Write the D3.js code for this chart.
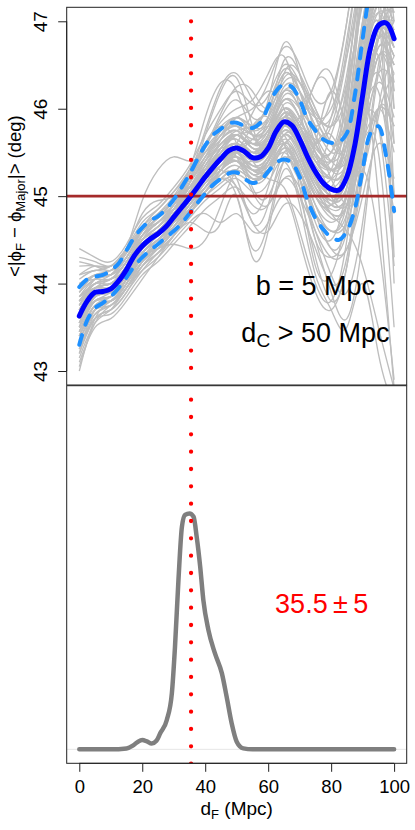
<!DOCTYPE html>
<html>
<head>
<meta charset="utf-8">
<script src="https://cdn.jsdelivr.net/npm/d3@7"></script>
<style>
  body { margin: 0; background: #fff; }
  svg { display: block; font-family: "Liberation Sans", Arial, Helvetica, sans-serif; }
</style>
</head>
<body>
<div id="chart"></div>
<script>
// ---- data ----

// grid for the individual (gray) realisations, d_F in Mpc
const gridX = [0, 5, 10, 15, 20, 25, 30, 35, 40, 45, 50, 55, 60, 65, 70, 75, 80, 85, 90, 95, 100];

// gray realisations, <|phi_F - phi_Major|> in deg at gridX
const grayCurves = [
  [43.70, 43.95, 44.00, 44.20, 44.50, 44.60, 44.80, 45.05, 45.40, 45.70, 45.80, 45.60, 45.70, 46.10, 45.90, 45.50, 45.30, 45.60, 46.60, 47.30, 47.20],
  [43.50, 43.85, 43.90, 44.10, 44.35, 44.50, 44.70, 44.90, 45.10, 45.30, 45.40, 45.30, 45.40, 45.70, 45.50, 45.10, 44.90, 45.00, 45.80, 46.60, 46.40],
  [44.10, 44.15, 44.20, 44.40, 44.65, 44.80, 44.95, 45.20, 45.55, 45.90, 46.10, 45.90, 46.00, 46.40, 46.20, 45.80, 45.60, 45.90, 47.00, 47.60, 47.50],
  [43.20, 43.65, 43.75, 43.95, 44.20, 44.35, 44.55, 44.75, 44.95, 45.10, 45.20, 45.05, 45.15, 45.45, 45.20, 44.80, 44.60, 44.70, 45.40, 46.00, 45.50],
  [43.00, 43.60, 43.80, 44.00, 44.25, 44.45, 44.60, 44.85, 45.05, 45.25, 45.35, 45.20, 45.30, 45.60, 45.40, 45.00, 44.80, 44.90, 45.70, 46.30, 45.90],
  [44.40, 44.30, 44.25, 44.45, 44.75, 44.90, 45.10, 45.35, 45.70, 46.00, 46.20, 46.05, 46.15, 46.50, 46.30, 45.95, 45.80, 46.20, 47.30, 47.80, 47.80],
  [43.80, 44.00, 44.10, 44.40, 44.95, 45.30, 45.45, 45.40, 45.50, 45.70, 45.90, 45.70, 45.60, 45.90, 45.80, 45.40, 45.20, 45.40, 46.40, 47.10, 46.90],
  [43.60, 43.90, 43.95, 44.20, 44.50, 44.65, 44.85, 45.15, 45.70, 46.20, 46.35, 45.80, 45.50, 45.90, 45.80, 45.30, 45.00, 45.30, 46.50, 47.20, 47.00],
  [43.55, 43.85, 43.90, 44.10, 44.40, 44.55, 44.70, 44.90, 45.15, 45.20, 45.00, 44.40, 44.70, 45.40, 45.30, 44.90, 44.70, 45.00, 46.00, 46.80, 46.60],
  [43.65, 43.90, 43.95, 44.15, 44.40, 44.55, 44.75, 45.00, 45.25, 45.50, 45.70, 45.75, 46.10, 46.75, 46.40, 45.70, 45.30, 45.40, 46.30, 47.00, 46.90],
  [43.60, 43.90, 43.95, 44.15, 44.45, 44.60, 44.80, 45.00, 45.25, 45.45, 45.50, 45.30, 45.35, 45.60, 45.80, 46.30, 46.20, 45.60, 45.90, 46.70, 46.50],
  [43.70, 43.95, 44.00, 44.20, 44.45, 44.60, 44.80, 45.00, 45.25, 45.45, 45.55, 45.40, 45.50, 45.80, 45.60, 45.20, 44.90, 45.00, 45.60, 45.50, 43.50],
  [43.50, 43.80, 43.85, 44.05, 44.35, 44.50, 44.70, 44.95, 45.20, 45.40, 45.50, 45.30, 45.30, 45.40, 45.00, 44.30, 43.80, 44.20, 45.50, 46.40, 46.30],
  [43.30, 43.60, 43.65, 43.85, 44.10, 44.25, 44.45, 44.65, 44.85, 45.00, 45.10, 44.90, 44.90, 45.20, 45.00, 44.60, 44.30, 44.40, 45.00, 45.60, 45.20],
  [43.75, 44.00, 44.05, 44.25, 44.50, 44.65, 44.85, 45.10, 45.35, 45.60, 45.70, 45.60, 45.75, 46.10, 45.90, 45.50, 45.40, 45.90, 47.30, 48.00, 48.00],
  [43.90, 44.05, 44.10, 44.30, 44.55, 44.70, 44.90, 45.10, 45.30, 45.50, 45.60, 45.50, 45.65, 45.95, 45.75, 45.40, 45.20, 45.40, 46.50, 47.10, 46.70],
  [43.60, 43.90, 43.95, 44.15, 44.40, 44.55, 44.75, 45.00, 45.20, 45.40, 45.50, 45.50, 45.60, 45.70, 45.10, 44.20, 44.10, 44.80, 46.00, 46.80, 46.60],
  [43.40, 43.75, 43.85, 44.05, 44.35, 44.50, 44.70, 44.90, 45.15, 45.35, 45.45, 45.35, 45.45, 45.75, 45.55, 45.15, 44.95, 45.10, 46.10, 46.90, 46.70],
  [43.80, 44.00, 44.00, 44.20, 44.45, 44.60, 44.80, 45.05, 45.30, 45.55, 45.70, 45.60, 45.70, 46.00, 45.80, 45.60, 45.90, 46.80, 47.80, 48.00, 47.80],
  [43.65, 43.90, 43.95, 44.15, 44.40, 44.55, 44.75, 44.95, 45.15, 45.35, 45.60, 45.95, 46.20, 46.00, 45.50, 45.10, 44.95, 45.20, 46.20, 46.90, 46.80],
  [43.55, 43.85, 43.90, 44.10, 44.40, 44.55, 44.75, 44.95, 45.20, 45.40, 45.50, 45.35, 45.40, 45.70, 45.50, 45.10, 44.80, 44.90, 45.30, 44.50, 42.90],
  [43.10, 43.50, 43.60, 43.80, 44.05, 44.30, 44.55, 44.80, 45.05, 45.30, 45.45, 45.35, 45.45, 45.75, 45.55, 45.15, 44.95, 45.10, 46.00, 46.80, 46.60],
  [44.00, 44.10, 44.15, 44.35, 44.60, 44.75, 44.95, 45.25, 45.75, 46.25, 46.40, 46.10, 46.00, 46.40, 46.20, 45.80, 45.50, 45.80, 46.90, 47.50, 47.40],
  [43.70, 43.95, 44.00, 44.20, 44.45, 44.60, 44.80, 45.05, 45.30, 45.45, 45.45, 45.25, 45.40, 45.80, 45.90, 46.30, 46.40, 45.70, 45.30, 46.00, 45.80],
  [43.85, 44.00, 44.05, 44.25, 44.55, 44.70, 44.90, 45.15, 45.40, 45.60, 45.65, 45.50, 45.60, 45.95, 45.70, 45.30, 45.10, 45.30, 46.40, 47.20, 47.10],
  [43.45, 43.80, 43.85, 44.05, 44.30, 44.45, 44.65, 44.90, 45.10, 45.25, 45.20, 44.70, 44.90, 45.50, 45.20, 44.50, 44.30, 44.60, 45.70, 46.60, 46.50],
  [43.65, 43.90, 43.95, 44.15, 44.45, 44.60, 44.80, 45.00, 45.25, 45.50, 45.60, 45.45, 45.55, 45.90, 45.70, 45.30, 45.00, 45.40, 46.20, 45.00, 42.80],
  [43.75, 43.95, 44.00, 44.20, 44.50, 44.65, 44.85, 45.10, 45.30, 45.50, 45.55, 45.45, 45.55, 45.85, 45.65, 45.35, 45.20, 45.60, 46.70, 47.40, 47.10],
  [43.55, 43.85, 43.90, 44.10, 44.30, 44.40, 44.45, 44.40, 44.50, 44.90, 45.30, 45.40, 45.50, 45.75, 45.55, 45.20, 45.00, 45.20, 46.20, 46.90, 46.80],
  [43.35, 43.70, 43.80, 44.00, 44.25, 44.40, 44.60, 44.85, 45.10, 45.30, 45.40, 45.25, 45.30, 45.60, 45.40, 45.00, 44.75, 44.90, 45.90, 46.80, 46.70],
  [43.60, 43.90, 43.95, 44.15, 44.40, 44.55, 44.75, 45.00, 45.25, 45.45, 45.50, 45.30, 45.40, 45.60, 45.20, 44.50, 43.90, 43.60, 44.50, 46.00, 46.60],
  [44.20, 44.20, 44.20, 44.40, 44.60, 44.75, 44.90, 45.15, 45.45, 45.70, 45.80, 45.70, 45.80, 46.20, 46.00, 45.60, 45.40, 45.70, 46.80, 47.40, 47.30],
  [43.70, 43.95, 44.00, 44.20, 44.45, 44.60, 44.80, 45.05, 45.30, 45.45, 45.55, 45.45, 45.60, 45.90, 45.70, 45.20, 44.80, 44.60, 44.20, 43.50, 42.80],
  [43.25, 43.60, 43.70, 43.90, 44.20, 44.40, 44.60, 44.85, 45.10, 45.30, 45.40, 45.30, 45.40, 45.70, 45.45, 45.05, 44.85, 45.00, 45.90, 46.70, 46.50],
  [44.30, 44.25, 44.20, 44.35, 44.60, 44.70, 44.85, 45.00, 45.30, 45.65, 45.90, 46.00, 46.30, 46.70, 46.50, 46.10, 46.20, 47.00, 48.00, 48.00, 48.00],
  [43.15, 43.55, 43.70, 43.95, 44.15, 44.30, 44.50, 44.70, 44.80, 44.70, 44.80, 44.60, 44.70, 45.00, 44.50, 43.90, 43.70, 44.20, 45.30, 46.00, 45.80],
  [43.90, 44.10, 44.15, 44.40, 44.80, 44.95, 45.00, 45.30, 45.90, 46.30, 46.20, 45.70, 45.70, 46.40, 46.40, 46.00, 45.80, 46.40, 47.50, 48.00, 47.90],
  [43.50, 43.80, 43.80, 44.00, 44.30, 44.40, 44.55, 44.70, 44.60, 44.70, 45.00, 44.30, 44.60, 45.30, 44.90, 44.10, 43.70, 43.50, 44.00, 43.20, 42.60],
  [43.05, 43.55, 43.75, 43.95, 44.25, 44.45, 44.65, 44.90, 45.20, 45.50, 45.70, 45.60, 45.90, 46.55, 46.40, 45.90, 45.60, 45.80, 46.80, 47.60, 47.50],
  [44.00, 44.05, 44.05, 44.20, 44.55, 44.75, 44.95, 45.25, 45.60, 45.85, 46.00, 46.10, 46.40, 46.60, 46.00, 45.40, 45.70, 46.30, 47.20, 47.90, 48.00],
  [43.40, 43.75, 43.80, 43.95, 44.20, 44.35, 44.55, 44.80, 45.05, 45.20, 45.10, 44.80, 45.10, 45.60, 45.30, 44.70, 44.50, 45.10, 46.40, 47.00, 46.00],
  [43.80, 43.95, 43.95, 44.15, 44.50, 44.70, 44.85, 45.05, 45.25, 45.40, 45.50, 45.65, 45.80, 45.60, 45.20, 45.60, 46.20, 45.80, 45.80, 46.60, 46.20],
  [43.60, 43.80, 43.85, 44.05, 44.35, 44.50, 44.65, 44.85, 45.05, 45.30, 45.50, 45.40, 45.20, 45.10, 44.60, 44.00, 43.80, 44.50, 45.80, 46.20, 45.00],
  [44.25, 44.20, 44.15, 44.30, 44.60, 44.80, 45.00, 45.30, 45.60, 45.80, 45.90, 45.80, 45.90, 46.20, 46.10, 45.90, 46.00, 46.60, 47.40, 47.70, 47.60],
  [43.55, 43.80, 43.90, 44.15, 44.45, 44.60, 44.75, 44.95, 45.20, 45.45, 45.60, 45.50, 45.60, 45.90, 45.70, 45.40, 45.30, 45.70, 47.00, 47.80, 47.80],
  [43.25, 43.70, 43.85, 44.05, 44.30, 44.50, 44.70, 44.95, 45.20, 45.35, 45.40, 45.20, 45.30, 45.70, 45.60, 45.20, 45.00, 45.10, 45.80, 45.80, 44.20],
  [43.70, 43.90, 43.95, 44.15, 44.45, 44.60, 44.85, 45.20, 45.60, 45.80, 45.60, 45.10, 45.00, 45.40, 45.30, 44.80, 44.40, 44.70, 46.00, 47.00, 47.10],
  [43.90, 44.10, 44.10, 44.25, 44.50, 44.65, 44.85, 45.10, 45.40, 45.65, 45.75, 45.55, 45.65, 46.05, 45.90, 45.55, 45.50, 46.10, 47.40, 48.00, 47.60],
  [43.35, 43.65, 43.75, 43.95, 44.20, 44.40, 44.60, 44.85, 45.05, 45.20, 45.30, 45.20, 45.30, 45.50, 45.20, 44.80, 44.60, 44.80, 45.60, 45.80, 44.80],
  [43.65, 43.90, 43.95, 44.20, 44.55, 44.75, 44.95, 45.10, 45.20, 45.30, 45.50, 45.80, 45.90, 45.60, 45.40, 45.60, 45.70, 45.40, 45.70, 46.80, 47.00],
  [43.80, 44.00, 44.05, 44.25, 44.45, 44.55, 44.70, 44.95, 45.25, 45.55, 45.70, 45.55, 45.70, 46.15, 46.00, 45.50, 45.00, 44.90, 45.60, 46.90, 47.30],
  [43.45, 43.75, 43.80, 44.00, 44.30, 44.45, 44.60, 44.80, 45.00, 45.15, 45.25, 45.15, 45.25, 45.55, 45.35, 45.00, 44.90, 45.30, 46.60, 47.40, 47.20],
  [44.05, 44.15, 44.15, 44.35, 44.65, 44.85, 45.05, 45.30, 45.55, 45.75, 45.85, 45.70, 45.75, 46.00, 45.80, 45.50, 45.30, 45.50, 46.50, 47.00, 46.30],
  [43.50, 43.85, 43.95, 44.15, 44.40, 44.55, 44.70, 44.85, 45.05, 45.30, 45.55, 45.60, 45.60, 45.80, 45.80, 45.60, 45.20, 44.90, 45.20, 46.40, 47.00],
  [43.60, 43.85, 43.90, 44.05, 44.30, 44.45, 44.70, 45.00, 45.35, 45.55, 45.45, 45.05, 44.90, 45.20, 45.10, 44.60, 44.10, 43.90, 44.70, 45.90, 46.40],
  [43.75, 44.05, 44.10, 44.30, 44.60, 44.75, 44.95, 45.20, 45.45, 45.65, 45.75, 45.65, 45.75, 46.00, 45.80, 45.45, 45.30, 45.60, 46.80, 47.50, 47.40],
  [43.85, 43.95, 43.95, 44.10, 44.40, 44.60, 44.80, 45.00, 45.20, 45.40, 45.55, 45.50, 45.70, 46.20, 46.10, 45.70, 45.40, 45.40, 46.00, 46.40, 45.60],
  [43.40, 43.70, 43.80, 44.05, 44.40, 44.60, 44.80, 45.00, 45.20, 45.35, 45.40, 45.25, 45.40, 45.80, 45.70, 45.30, 45.10, 45.40, 46.50, 47.30, 47.20],
  [43.60, 43.85, 43.90, 44.10, 44.40, 44.55, 44.75, 45.00, 45.30, 45.55, 45.65, 45.50, 45.60, 45.90, 45.60, 45.20, 45.10, 45.80, 47.40, 48.20, 46.00],
  [43.75, 43.95, 44.00, 44.20, 44.45, 44.60, 44.80, 45.05, 45.30, 45.50, 45.60, 45.45, 45.55, 45.85, 45.60, 45.25, 45.20, 46.00, 47.60, 48.00, 45.00],
  [43.50, 43.80, 43.85, 44.05, 44.35, 44.50, 44.70, 44.95, 45.25, 45.55, 45.70, 45.55, 45.60, 45.95, 45.80, 45.45, 45.40, 46.20, 47.80, 47.50, 44.30],
  [43.95, 44.10, 44.10, 44.30, 44.55, 44.70, 44.90, 45.15, 45.45, 45.75, 45.90, 45.80, 45.85, 46.25, 46.20, 45.90, 45.90, 46.70, 47.90, 48.00, 46.80],
  [43.40, 43.70, 43.75, 43.95, 44.25, 44.45, 44.65, 44.90, 45.10, 45.30, 45.40, 45.30, 45.45, 45.80, 45.50, 45.00, 44.90, 45.50, 46.90, 47.60, 46.20],
  [43.65, 43.95, 44.05, 44.25, 44.50, 44.65, 44.85, 45.15, 45.55, 45.95, 46.25, 46.20, 46.00, 46.30, 46.30, 46.00, 45.60, 45.60, 46.60, 47.40, 47.60],
  [43.55, 43.80, 43.85, 44.05, 44.35, 44.55, 44.80, 45.10, 45.30, 45.30, 45.10, 44.70, 44.60, 44.90, 44.80, 44.40, 44.00, 44.30, 45.60, 46.80, 47.20],
  [43.85, 44.05, 44.10, 44.30, 44.55, 44.70, 44.90, 45.15, 45.40, 45.60, 45.75, 45.80, 46.05, 46.45, 46.20, 45.60, 45.50, 46.30, 47.70, 48.00, 47.40],
  [43.20, 43.60, 43.70, 43.90, 44.15, 44.35, 44.55, 44.80, 45.00, 45.20, 45.30, 45.20, 45.35, 45.65, 45.40, 44.90, 44.60, 44.90, 46.00, 46.60, 45.00],
  [43.70, 43.95, 44.00, 44.20, 44.45, 44.60, 44.80, 45.05, 45.35, 45.60, 45.70, 45.55, 45.65, 46.00, 45.85, 45.65, 45.80, 46.60, 47.60, 47.20, 44.00],
  [43.60, 43.90, 43.95, 44.10, 44.35, 44.50, 44.70, 44.95, 45.20, 45.40, 45.50, 45.40, 45.50, 45.80, 45.60, 45.30, 45.30, 46.10, 47.30, 47.70, 45.60],
  [44.10, 44.20, 44.20, 44.40, 44.70, 44.85, 45.05, 45.25, 45.50, 45.70, 45.80, 45.70, 45.80, 46.10, 46.00, 45.80, 46.10, 47.00, 48.10, 48.20, 47.00],
  [43.45, 43.75, 43.80, 44.00, 44.25, 44.40, 44.60, 44.85, 45.10, 45.35, 45.45, 45.30, 45.30, 45.55, 45.30, 44.80, 44.40, 44.40, 45.20, 46.50, 47.20],
  [43.80, 44.00, 44.05, 44.25, 44.50, 44.65, 44.90, 45.20, 45.50, 45.75, 45.85, 45.75, 45.90, 46.35, 46.30, 45.90, 45.60, 45.80, 46.90, 47.70, 47.80]
];

// finer grid for the mean and the 1-sigma band
const bandX = [0, 2.5, 5, 7.5, 10, 12.5, 15, 17.5, 20, 22.5, 25, 27.5, 30, 32.5, 35, 37.5, 40, 42.5, 45, 47.5,
               50, 52.5, 55, 57.5, 60, 62.5, 65, 67.5, 70, 72.5, 75, 77.5, 80, 82.5, 85, 87.5, 90, 92.5, 95, 97.5, 100];
const meanCurve = [43.63, 43.80, 43.90, 43.91, 43.94, 44.03, 44.16, 44.32, 44.43, 44.51, 44.57, 44.65, 44.76, 44.87, 44.98, 45.10, 45.22, 45.33, 45.43, 45.52,
                   45.55, 45.51, 45.44, 45.45, 45.55, 45.74, 45.85, 45.81, 45.65, 45.45, 45.28, 45.15, 45.08, 45.07, 45.22, 45.58, 46.15, 46.70, 46.95, 46.98, 46.80];
const upperBand = [43.96, 44.05, 44.08, 44.10, 44.15, 44.23, 44.38, 44.53, 44.64, 44.72, 44.77, 44.85, 44.96, 45.10, 45.25, 45.42, 45.58, 45.70, 45.77, 45.83,
                   45.84, 45.80, 45.78, 45.84, 46.02, 46.20, 46.28, 46.25, 46.10, 45.88, 45.75, 45.65, 45.61, 45.62, 45.72, 46.15, 46.80, 47.40, 47.80, 47.90, 47.70];
const lowerBand = [43.30, 43.58, 43.72, 43.78, 43.85, 43.95, 44.07, 44.20, 44.30, 44.38, 44.45, 44.53, 44.60, 44.69, 44.80, 44.92, 45.03, 45.13, 45.20, 45.26,
                   45.27, 45.20, 45.15, 45.18, 45.28, 45.38, 45.42, 45.38, 45.22, 44.95, 44.75, 44.62, 44.53, 44.50, 44.60, 44.85, 45.30, 45.72, 45.80, 45.45, 44.83];

// probability density of d_F (lower panel)
const densX = [0, 10, 15, 17, 18.5, 20, 21.5, 23, 24.5, 25.7, 27.8, 29.4, 30.4, 31.5, 32.6, 33.6, 35, 36.3, 37.3, 38.4, 39.4,
               41, 43.1, 45.3, 46.8, 48.4, 50, 52.1, 55, 100];
const densY = [0, 0, 0.0003, 0.0012, 0.0024, 0.0031, 0.0026, 0.0019, 0.0028, 0.0053, 0.0097, 0.0185, 0.0339, 0.056, 0.0736, 0.0775, 0.078, 0.0769, 0.0702, 0.0604, 0.0494,
               0.0395, 0.0317, 0.0251, 0.0174, 0.0086, 0.0025, 0.0003, 0, 0];
const densMax = 0.1156;

const bestFit = 35.5;
const bestErr = 5;
const refAngle = 45;

const xTicks = [0, 20, 40, 60, 80, 100];
const yTicks = [43, 44, 45, 46, 47];

// ---- layout ----
const width = 415, height = 830;
const left = 66.7, right = 406.7;
const topT = 7.3, topB = 385;
const botT = 385.7, botB = 763.3;

const svg = d3.select("#chart")
  .append("svg")
  .attr("width", width)
  .attr("height", height);

// scales (R style 4% padding)
const xScale = d3.scaleLinear().domain([-4, 104]).range([left, right]);
const yTop = d3.scaleLinear().domain([42.84, 47.16]).range([topB, topT]);
const yBot = d3.scaleLinear().domain([-0.04 * densMax, 1.04 * densMax]).range([botB, botT]);

// clip paths
const defs = svg.append("defs");
defs.append("clipPath").attr("id", "clipTop")
  .append("rect").attr("x", left).attr("y", topT).attr("width", right - left).attr("height", topB - topT);
defs.append("clipPath").attr("id", "clipBot")
  .append("rect").attr("x", left).attr("y", botT).attr("width", right - left).attr("height", botB - botT);

/* top panel */
const gTop = svg.append("g").attr("clip-path", "url(#clipTop)");

const grayLine = d3.line()
  .x((d, i) => xScale(gridX[i]))
  .y(d => yTop(d))
  .curve(d3.curveNatural);

gTop.selectAll(".gray")
  .data(grayCurves)
  .enter()
  .append("path")
    .attr("class", "gray")
    .attr("d", grayLine)
    .attr("fill", "none")
    .attr("stroke", "#bebebe")
    .attr("stroke-width", 1.35);

// reference line at 45 deg
gTop.append("line")
  .attr("x1", left).attr("x2", right)
  .attr("y1", yTop(refAngle)).attr("y2", yTop(refAngle))
  .attr("stroke", "#a52a2a")
  .attr("stroke-width", 2.6);

const bandLine = d3.line()
  .x((d, i) => xScale(bandX[i]))
  .y(d => yTop(d))
  .curve(d3.curveCatmullRom);

[upperBand, lowerBand].forEach(b => {
  gTop.append("path")
    .attr("d", bandLine(b))
    .attr("fill", "none")
    .attr("stroke", "#1e90ff")
    .attr("stroke-width", 4)
    .attr("stroke-linecap", "round")
    .attr("stroke-dasharray", "10 11");
});

gTop.append("path")
  .attr("d", bandLine(meanCurve))
  .attr("fill", "none")
  .attr("stroke", "#0000ff")
  .attr("stroke-width", 5)
  .attr("stroke-linecap", "round");

// labels in the top panel
svg.append("text")
  .attr("x", xScale(75)).attr("y", 295)
  .attr("text-anchor", "middle")
  .attr("font-size", 27)
  .text("b = 5 Mpc");

const dc = svg.append("text")
  .attr("x", xScale(75)).attr("y", 341.7)
  .attr("text-anchor", "middle")
  .attr("font-size", 27);
dc.append("tspan").text("d");
dc.append("tspan").attr("font-size", 19).attr("dy", 5).text("C");
dc.append("tspan").attr("dy", -5).text(" > 50 Mpc");

/* bottom panel */
const gBot = svg.append("g").attr("clip-path", "url(#clipBot)");

gBot.append("line")
  .attr("x1", left).attr("x2", right)
  .attr("y1", yBot(0)).attr("y2", yBot(0))
  .attr("stroke", "#e6e6e6")
  .attr("stroke-width", 1);

const densLine = d3.line()
  .x((d, i) => xScale(densX[i]))
  .y(d => yBot(d))
  .curve(d3.curveMonotoneX);

gBot.append("path")
  .attr("d", densLine(densY))
  .attr("fill", "none")
  .attr("stroke", "#7f7f7f")
  .attr("stroke-width", 4.5)
  .attr("stroke-linecap", "round");

svg.append("text")
  .attr("x", xScale(77)).attr("y", 613.3)
  .attr("text-anchor", "middle")
  .attr("font-size", 27)
  .attr("fill", "#ff0000")
  .text(bestFit + "\u2009\u00b1\u2009" + bestErr);

/* dotted best-fit line, both panels */
[[gTop, yTop(47), topB], [gBot, yBot(densMax), botB + 2]].forEach(([g, y1, y2]) => {
  g.append("line")
    .attr("x1", xScale(bestFit)).attr("x2", xScale(bestFit))
    .attr("y1", y1).attr("y2", y2)
    .attr("stroke", "#ff0000")
    .attr("stroke-width", 4.3)
    .attr("stroke-linecap", "round")
    .attr("stroke-dasharray", "0 17.33");
});

/* frames */
[[topT, topB], [botT, botB]].forEach(([t, b]) => {
  svg.append("rect")
    .attr("x", left).attr("y", t)
    .attr("width", right - left).attr("height", b - t)
    .attr("fill", "none")
    .attr("stroke", "#222")
    .attr("stroke-width", 1);
});

/* axes */
const yAxis = svg.append("g")
  .attr("transform", `translate(${left},0)`)
  .call(d3.axisLeft(yTop).tickValues(yTicks).tickSize(8.5).tickFormat(d3.format("d")));
yAxis.select(".domain")
  .attr("d", `M0,${yTop(43)}V${yTop(47)}`)
  .attr("stroke", "#222");
yAxis.selectAll(".tick line").attr("stroke", "#222");
yAxis.selectAll(".tick text")
  .attr("font-size", 19)
  .attr("font-family", "Liberation Sans, Arial, sans-serif")
  .attr("fill", "#000")
  .attr("text-anchor", "middle")
  .attr("x", null).attr("dy", null)
  .attr("transform", "translate(-20,0) rotate(-90)");

const xAxis = svg.append("g")
  .attr("transform", `translate(0,${botB})`)
  .call(d3.axisBottom(xScale).tickValues(xTicks).tickSize(8.5));
xAxis.select(".domain")
  .attr("d", `M${xScale(0)},0H${xScale(100)}`)
  .attr("stroke", "#222");
xAxis.selectAll(".tick line").attr("stroke", "#222");
xAxis.selectAll(".tick text")
  .attr("font-size", 18.5)
  .attr("font-family", "Liberation Sans, Arial, sans-serif")
  .attr("fill", "#000")
  .attr("y", 30.2)
  .attr("dy", null);

// axis titles
const xt = svg.append("text")
  .attr("x", (left + right) / 2).attr("y", 815)
  .attr("text-anchor", "middle")
  .attr("font-size", 19);
xt.append("tspan").text("d");
xt.append("tspan").attr("font-size", 13).attr("dy", 4).text("F");
xt.append("tspan").attr("dy", -4).text(" (Mpc)");

const yt = svg.append("text")
  .attr("transform", `translate(21,${(topT + topB) / 2}) rotate(-90)`)
  .attr("text-anchor", "middle")
  .attr("font-size", 18.5);
yt.append("tspan").text("<|\u03d5");
yt.append("tspan").attr("font-size", 13).attr("dy", 4).text("F");
yt.append("tspan").attr("dy", -4).text(" \u2212 \u03d5");
yt.append("tspan").attr("font-size", 13).attr("dy", 4).text("Major");
yt.append("tspan").attr("dy", -4).text("|> (deg)");
</script>
</body>
</html>
